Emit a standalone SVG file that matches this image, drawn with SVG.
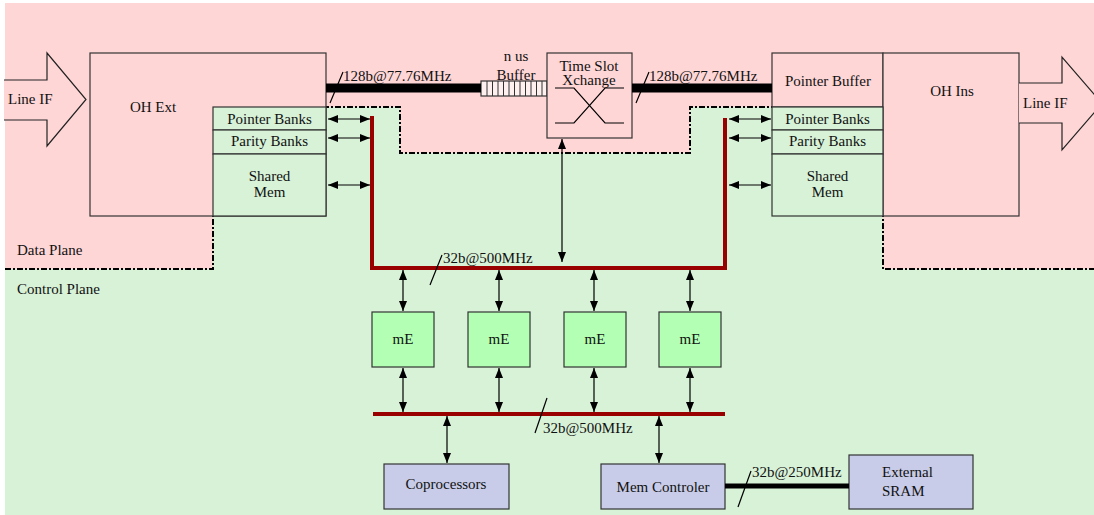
<svg xmlns="http://www.w3.org/2000/svg" width="1094" height="515" viewBox="0 0 1094 515">
<style>
text{font-family:"Liberation Serif","Times New Roman","DejaVu Serif",serif;font-size:15px;fill:#111}
.c{text-anchor:middle}
.box{stroke:#333;stroke-width:1.2}
.pink{fill:#ffd6d6}
.grn{fill:#d8f2d8}
.me{fill:#b3ffb3}
.lav{fill:#c8cce8}
.arr{stroke:#000;stroke-width:1.2;fill:none;marker-start:url(#ahs);marker-end:url(#ah)}
.one{stroke:#000;stroke-width:1.2;fill:none}
.red{stroke:#990000;stroke-width:4;fill:none}
.bus{stroke:#000;fill:none}
.bd{stroke:#000;stroke-width:2;fill:none;stroke-dasharray:6 2 2 2}
</style>
<defs>
<marker id="ah" viewBox="0 0 10 8" refX="10" refY="4" markerWidth="10" markerHeight="8" markerUnits="userSpaceOnUse" orient="auto">
<path d="M0,0 L10,4 L0,8 z" fill="#000"/>
</marker>
<marker id="ahs" viewBox="0 0 10 8" refX="0" refY="4" markerWidth="10" markerHeight="8" markerUnits="userSpaceOnUse" orient="auto">
<path d="M10,0 L0,4 L10,8 z" fill="#000"/>
</marker>
</defs>
<g id="planes">
<rect x="5" y="3" width="1089" height="512" class="grn"/>
<path d="M5,3 H1094 V269 H883 V107 H690 V153 H400 V107 H213 V269 H5 Z" class="pink"/>
<path d="M5,269 H213 V107 H400 V153 H690 V107 H883 V269 H1094" class="bd"/>
<text x="17" y="255">Data Plane</text>
<text x="17" y="294">Control Plane</text>
</g>
<g id="lineif-in">
<path d="M4,80 H47 V53 L86,99.5 L47,146 V120 H4" class="pink" stroke="#222" stroke-width="1.2"/>
<text x="8" y="104">Line IF</text>
</g>
<g id="oh-ext">
<rect x="90" y="53" width="236" height="163" class="box pink"/>
<text x="153" y="112" class="c">OH Ext</text>
</g>
<g id="left-mem">
<rect x="213" y="107" width="113" height="23" class="box grn"/>
<rect x="213" y="130" width="113" height="24" class="box grn"/>
<rect x="213" y="154" width="113" height="62" class="box grn"/>
<text x="269.5" y="124" class="c">Pointer Banks</text>
<text x="269.5" y="146" class="c">Parity Banks</text>
<text x="269.5" y="181" class="c">Shared</text>
<text x="269.5" y="197" class="c">Mem</text>
</g>
<g id="buffer">
<rect x="481" y="81" width="66" height="15" fill="#fff0f0" stroke="#333" stroke-width="1.2"/>
<path d="M487,81V96M492.5,81V96M498,81V96M503.5,81V96M509,81V96M514.5,81V96M520,81V96M525.5,81V96M531,81V96M536.5,81V96M542,81V96" stroke="#333" stroke-width="1"/>
<text x="516" y="61" class="c">n us</text>
<text x="516" y="80" class="c">Buffer</text>
</g>
<g id="tsx">
<rect x="547" y="53" width="85" height="85" class="box pink"/>
<text x="589" y="71" class="c">Time Slot</text>
<text x="589" y="85" class="c">Xchange</text>
<path d="M555,88H574L605,123H624M555,123H574L605,88H624" class="one" stroke="#333"/>
</g>
<g id="ptr-buffer">
<rect x="772" y="53" width="111" height="54" class="box pink"/>
<text x="828" y="86" class="c">Pointer Buffer</text>
</g>
<g id="oh-ins">
<rect x="883" y="53" width="136" height="163" class="box pink"/>
<text x="952" y="96" class="c">OH Ins</text>
</g>
<g id="right-mem">
<rect x="772" y="107" width="111" height="23" class="box grn"/>
<rect x="772" y="130" width="111" height="24" class="box grn"/>
<rect x="772" y="154" width="111" height="62" class="box grn"/>
<text x="827.5" y="124" class="c">Pointer Banks</text>
<text x="827.5" y="146" class="c">Parity Banks</text>
<text x="827.5" y="181" class="c">Shared</text>
<text x="827.5" y="197" class="c">Mem</text>
</g>
<g id="lineif-out">
<path d="M1019,83 H1062 V57 L1102,103.5 L1062,150 V123 H1019" class="pink" stroke="#222" stroke-width="1.2"/>
<text x="1023" y="108">Line IF</text>
</g>
<g id="me1"><rect x="372" y="312" width="62" height="55" class="box me"/><text x="403" y="344" class="c">mE</text></g>
<g id="me2"><rect x="468" y="312" width="62" height="55" class="box me"/><text x="499" y="344" class="c">mE</text></g>
<g id="me3"><rect x="564" y="312" width="62" height="55" class="box me"/><text x="595" y="344" class="c">mE</text></g>
<g id="me4"><rect x="659" y="312" width="62" height="55" class="box me"/><text x="690" y="344" class="c">mE</text></g>
<g id="coproc"><rect x="384" y="464" width="125" height="45" class="box lav"/><text x="446" y="489" class="c">Coprocessors</text></g>
<g id="memctl"><rect x="601" y="464" width="124" height="45" class="box lav"/><text x="663" y="492" class="c">Mem Controler</text></g>
<g id="sram"><rect x="849" y="455" width="124" height="54" class="box lav"/><text x="882" y="477">External</text><text x="882" y="496">SRAM</text></g>
<g id="connectors">
<path d="M326,88H481" class="bus" stroke-width="9"/>
<path d="M632,88H772" class="bus" stroke-width="9"/>
<path d="M330,103L343,72M636,103L649,72" class="one"/>
<text x="343" y="81">128b@77.76MHz</text>
<text x="649" y="81">128b@77.76MHz</text>
<path d="M372,116V268H725V118" class="red"/>
<path d="M373,414H725" class="red"/>
<path d="M430,285L442,255" class="one"/>
<text x="443" y="263">32b@500MHz</text>
<path d="M547,398L535,433" class="one"/>
<text x="543" y="433">32b@500MHz</text>
<line x1="328" y1="119" x2="370" y2="119" class="arr"/>
<line x1="328" y1="138" x2="370" y2="138" class="arr"/>
<line x1="328" y1="185" x2="370" y2="185" class="arr"/>
<line x1="729" y1="119" x2="771" y2="119" class="arr"/>
<line x1="729" y1="138" x2="771" y2="138" class="arr"/>
<line x1="729" y1="185" x2="771" y2="185" class="arr"/>
<line x1="562" y1="139" x2="562" y2="262" class="arr"/>
<line x1="403" y1="270" x2="403" y2="311" class="arr"/>
<line x1="499" y1="270" x2="499" y2="311" class="arr"/>
<line x1="594" y1="270" x2="594" y2="311" class="arr"/>
<line x1="690" y1="270" x2="690" y2="311" class="arr"/>
<line x1="403" y1="368" x2="403" y2="412" class="arr"/>
<line x1="499" y1="368" x2="499" y2="412" class="arr"/>
<line x1="594" y1="368" x2="594" y2="412" class="arr"/>
<line x1="690" y1="368" x2="690" y2="412" class="arr"/>
<line x1="447" y1="416" x2="447" y2="463" class="arr"/>
<line x1="659" y1="416" x2="659" y2="463" class="arr"/>
<path d="M725,486H849" class="bus" stroke-width="5"/>
<path d="M738,507L751,471" class="one"/>
<text x="752" y="477">32b@250MHz</text>
</g>
</svg>
